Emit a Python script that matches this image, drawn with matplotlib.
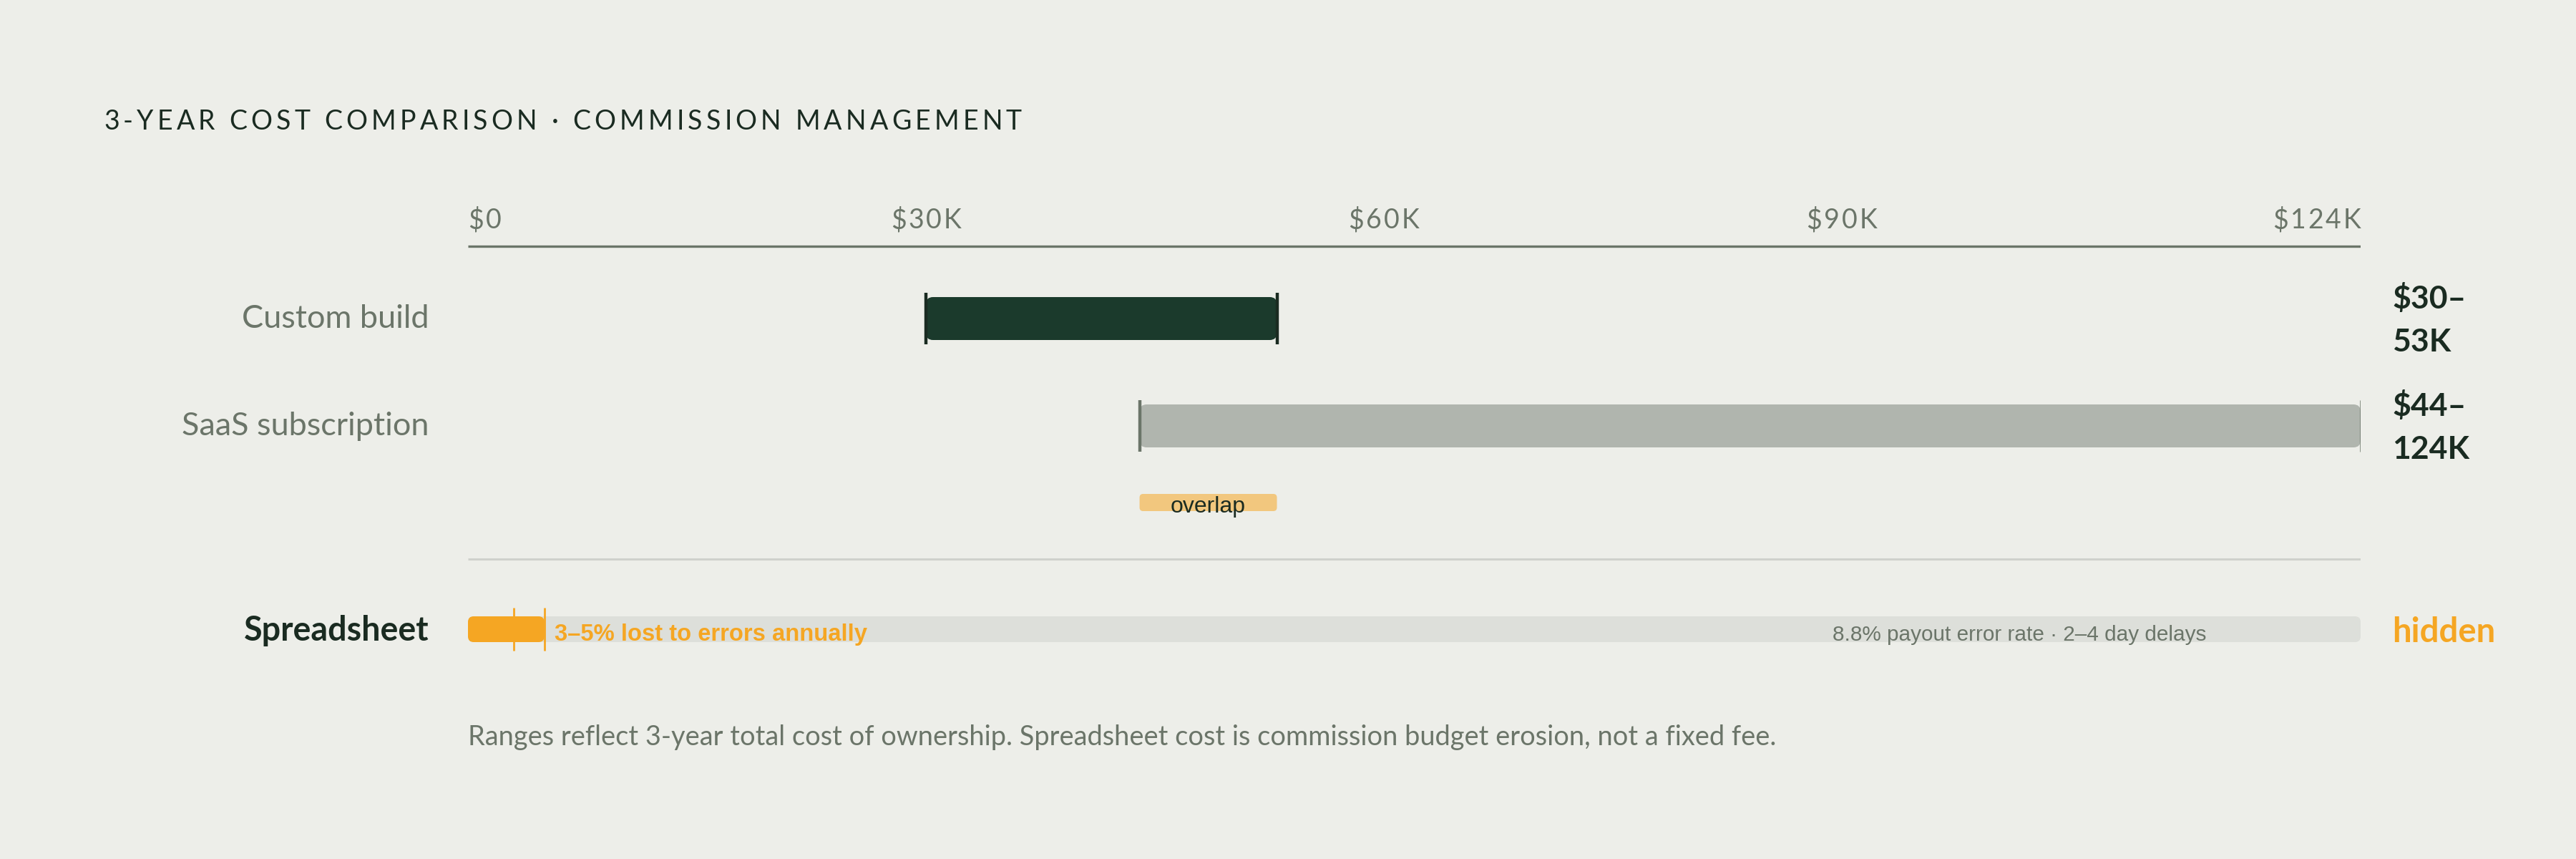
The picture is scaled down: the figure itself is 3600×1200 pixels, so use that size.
import matplotlib.pyplot as plt
import matplotlib.transforms as mtransforms
from matplotlib.patches import FancyBboxPatch

# data
tick_values = [0, 30, 60, 90, 124]
tick_labels = ['$0', '$30K', '$60K', '$90K', '$124K']
categories = ['Custom build', 'SaaS subscription']
cost_low = [30, 44]
cost_high = [53, 124]
value_labels = ['$30–\n53K', '$44–\n124K']
sheet_label = 'Spreadsheet'
sheet_loss = [3, 5]
sheet_note = '3–5% lost to errors annually'
sheet_detail = '8.8% payout error rate · 2–4 day delays'
sheet_value = 'hidden'
title = '3-YEAR COST COMPARISON · COMMISSION MANAGEMENT'
footnote = 'Ranges reflect 3-year total cost of ownership. Spreadsheet cost is commission budget erosion, not a fixed fee.'

# styles
BG = '#edeee9'
DARK = '#1b3a2c'
INK = '#1a2b21'
GREY = '#6b7569'
SAAS = '#b0b5ae'
ORANGE = '#f5a623'
OVERLAP = '#f2c77e'
TRACK = '#dddfda'
RULE = '#cfd1cc'
FONT = 'Lato'

W, H = 3600, 1200
fig = plt.figure(figsize=(18, 6), dpi=200, facecolor=BG)
x_max = tick_values[-1]

# axes: x in $K, y in pixels from top
left_px, right_px = 654, 3299
top_px, bot_px = 300, 1100
ax = fig.add_axes([left_px / W, 1 - bot_px / H, (right_px - left_px) / W, (bot_px - top_px) / H])
ax.set_xlim(0, x_max)
ax.set_ylim(bot_px, top_px)
ax.axis('off')
ax.patch.set_alpha(0)
px_per_x = (right_px - left_px) / x_max

row_y = [445, 595]
bar_h = 60
overlap_y, overlap_h = 702, 24
sep_y = 781
sheet_y, sheet_h = 879, 36
axis_y = 344


def rbar(x0, x1, yc, h, color, r_px, z=2):
    rs = r_px / px_per_x
    p = FancyBboxPatch((x0, yc - h / 2), x1 - x0, h,
                       boxstyle=f'round,pad=0,rounding_size={rs}',
                       mutation_aspect=px_per_x, fc=color, ec='none', zorder=z)
    ax.add_patch(p)


def spaced(x_px, y_px, s, spacing, ha='left', **kw):
    r = fig.canvas.get_renderer()
    ident = mtransforms.IdentityTransform()

    def width(txt):
        t = fig.text(0, 0, txt + '|', transform=ident, **kw)
        w = t.get_window_extent(r).width
        t.remove()
        return w
    bar_w = width('')
    pos = [width(s[:i]) - bar_w + i * spacing for i in range(len(s))]
    total = width(s) - bar_w + (len(s) - 1) * spacing
    if ha == 'right':
        x_px -= total
    elif ha == 'center':
        x_px -= total / 2
    for ch, p in zip(s, pos):
        fig.text(x_px + p, H - y_px, ch, transform=ident, va='baseline', **kw)


# title
spaced(145, 181, title, 5.2, fontsize=13.5, color=INK, family=FONT)

# axis line and tick labels
ax.hlines(axis_y, 0, x_max, color=GREY, lw=1.2)
for i, (v, lab) in enumerate(zip(tick_values, tick_labels)):
    ha = 'left' if i == 0 else ('right' if i == len(tick_values) - 1 else 'center')
    spaced(left_px + v * px_per_x, 319, lab, 2.8, ha=ha, fontsize=13.5, color=GREY, family=FONT)

# range bars
bar_colors = [DARK, SAAS]
cap_colors = [INK, GREY]
for i in range(len(categories)):
    yc = row_y[i]
    rbar(cost_low[i], cost_high[i], yc, bar_h, bar_colors[i], 10)
    ax.vlines(cost_low[i], yc - bar_h / 2 - 6, yc + bar_h / 2 + 6, color=cap_colors[i], lw=1.6, zorder=3)
    ax.vlines(cost_high[i], yc - bar_h / 2 - 6, yc + bar_h / 2 + 6, color=cap_colors[i],
              lw=1.6 if i == 0 else 0.9, zorder=3)
    ax.text(-55 / px_per_x, yc, categories[i], ha='right', va='center',
            fontsize=16.2, color=GREY, family=FONT)
    ax.text(x_max + 44 / px_per_x, yc + 2, value_labels[i], ha='left', va='center',
            fontsize=16, fontweight='bold', color=INK, family=FONT, linespacing=1.6)

# overlap band
ov0, ov1 = max(cost_low), min(cost_high)
rbar(ov0, ov1, overlap_y, overlap_h, OVERLAP, 5)
ax.text((ov0 + ov1) / 2, overlap_y + 6, 'overlap', ha='center', va='center',
        fontsize=11.5, color=INK, family='Liberation Sans', zorder=4)

# separator
ax.hlines(sep_y, 0, x_max, color=RULE, lw=1.1)

# spreadsheet row
rbar(0, x_max, sheet_y, sheet_h, TRACK, 8, z=1)
rbar(0, sheet_loss[1], sheet_y, sheet_h, ORANGE, 8)
ax.vlines(sheet_loss, sheet_y - 30, sheet_y + 30, color=ORANGE, lw=1.0, zorder=3)
ax.text(sheet_loss[1] + 14 / px_per_x, sheet_y + 8, sheet_note, ha='left', va='center',
        fontsize=11.8, fontweight='bold', color=ORANGE, family='Liberation Sans')
ax.text(x_max - 215 / px_per_x, sheet_y + 8, sheet_detail, ha='right', va='center',
        fontsize=10.7, color=GREY, family='Liberation Sans')
ax.text(-55 / px_per_x, sheet_y + 2, sheet_label, ha='right', va='center',
        fontsize=16.8, fontweight='bold', color=INK, family=FONT)
ax.text(x_max + 44 / px_per_x, sheet_y + 4, sheet_value, ha='left', va='center',
        fontsize=17, fontweight='bold', color=ORANGE, family=FONT)

# footnote
fig.text(left_px / W, 1 - 1030 / H, footnote, ha='left', va='center',
         fontsize=13.7, color=GREY, family=FONT)

fig.savefig('out.png', dpi=200, facecolor=BG)
